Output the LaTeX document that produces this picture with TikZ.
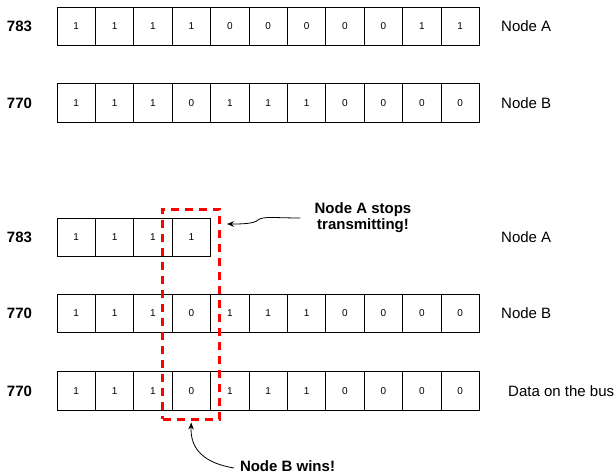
\documentclass[tikz,border=0pt]{standalone}
\usepackage{fontspec}
\setmainfont{Liberation Sans}
\usetikzlibrary{arrows.meta}
\begin{document}
\begin{tikzpicture}[x=1pt,y=-1pt,
  cell/.style={draw, line width=0.8pt, minimum width=38.4pt, minimum height=38.5pt, inner sep=0pt, font=\fontsize{10}{12}\selectfont},
  num/.style={font=\bfseries\fontsize{15}{18}\selectfont},
  lab/.style={anchor=west, inner sep=0pt, font=\fontsize{15}{18}\selectfont},
  note/.style={font=\bfseries\fontsize{15}{16}\selectfont, align=center, inner sep=0pt},
  redbox/.style={draw=red, line width=3pt, dash pattern=on 8pt off 6pt, inner sep=0pt},
  arr/.style={-{Stealth[length=7pt,width=5.5pt]}, line width=0.8pt}]
\useasboundingbox (0,0) rectangle (616,474);

% Row 1
\foreach \v [count=\i] in {1,1,1,1,0,0,0,0,0,1,1}
  \node[cell] (a\i) at ({57+38.4*(\i-0.5)}, 26.5) {\v};
\node[num] (na) at (19.5,26.5) {783};
\node[lab] (la) at (501,26.5) {Node A};

% Row 2
\foreach \v [count=\i] in {1,1,1,0,1,1,1,0,0,0,0}
  \node[cell] (b\i) at ({57+38.4*(\i-0.5)}, 103) {\v};
\node[num] (nb) at (19.5,103) {770};
\node[lab] (lb) at (501,103) {Node B};

% Row 3
\foreach \v [count=\i] in {1,1,1,1}
  \node[cell] (c\i) at ({57+38.4*(\i-0.5)}, 237.5) {\v};
\node[num] (nc) at (19.5,237.5) {783};
\node[lab] (lc) at (501,237.5) {Node A};

% Row 4
\foreach \v [count=\i] in {1,1,1,0,1,1,1,0,0,0,0}
  \node[cell] (d\i) at ({57+38.4*(\i-0.5)}, 313.5) {\v};
\node[num] (nd) at (19.5,313.5) {770};
\node[lab] (ld) at (501,313.5) {Node B};

% Row 5
\foreach \v [count=\i] in {1,1,1,0,1,1,1,0,0,0,0}
  \node[cell] (e\i) at ({57+38.4*(\i-0.5)}, 391) {\v};
\node[num] (ne) at (19.5,391) {770};
\node[lab] (le) at (508,391) {Data on the bus};

% Red dashed box
\node[redbox, minimum width=57.3pt, minimum height=210pt] (rb) at (191.3,314) {};

% Notes
\node[note] (ta) at (363,217.5) {Node A stops\\transmitting!};
\node[note] (tb) at (287.5,466) {Node B wins!};

\coordinate (tipA) at (227,224);
\draw[arr] ([xshift=-14pt,yshift=-0.5pt]ta.west) .. controls (275,218) and (263,216) .. (258,220)
  .. controls (254,224) and (240,224) .. (tipA);
\draw[arr] ([xshift=-6pt,yshift=-2pt]tb.west) .. controls (205,463) and (190,450) .. ([yshift=-2pt]rb.south);
\end{tikzpicture}
\end{document}
